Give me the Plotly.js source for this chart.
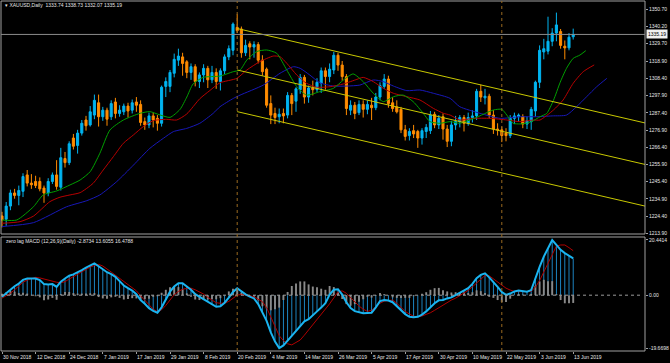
<!DOCTYPE html>
<html><head><meta charset="utf-8">
<script src="https://cdn.plot.ly/plotly-3.0.1.min.js"></script>
<style>html,body{margin:0;padding:0;background:#000;}#chart{width:670px;height:363px;}</style>
</head><body><div id="chart"></div>
<script>
// ---- tick labels (every 8 bars) ----
const dateTickBars = [0,8,16,24,32,40,48,56,64,72,80,88,96,104,112,120,128,136];
const dateTickLabels = ["30 Nov 2018","12 Dec 2018","24 Dec 2018","7 Jan 2019","17 Jan 2019","29 Jan 2019","8 Feb 2019","20 Feb 2019","4 Mar 2019","14 Mar 2019","26 Mar 2019","5 Apr 2019","17 Apr 2019","30 Apr 2019","10 May 2019","22 May 2019","3 Jun 2019","13 Jun 2019"];
const priceTicks = [1350.70,1340.20,1329.70,1318.90,1308.40,1297.90,1287.40,1276.90,1266.40,1255.90,1245.40,1234.90,1224.40,1213.90];
const priceTickLabels = ["1350.70","1340.20","1329.70","1318.90","1308.40","1297.90","1287.40","1276.90","1266.40","1255.90","1245.40","1234.90","1224.40","1213.90"];
const macdTicks = [20.4414, 0, -19.6698];
const macdTickLabels = ["20.4414","0.00","-19.6698"];

// ---- daily candles XAUUSD ----
const openP = [
1224.5,1222.5,1230.5,1238.5,1237,1239.5,1249.5,1244.5,1245.5,1245.5,
1241.5,1238.5,1245.5,1249.5,1242,1259.5,1257,1272,1267.5,1275,
1283,1280,1286,1293.5,1285,1289,1285,1294,1287,1288,
1291.5,1289,1294,1292.5,1282,1280,1285.5,1284,1281,1303.5,
1303.5,1311.5,1319.5,1321.5,1318.5,1312,1315.5,1306.5,1310.5,1314.5,
1307.5,1312,1306.5,1313,1321.5,1325.5,1339.5,1338.5,1324,1329.5,
1327.5,1329,1319.5,1314,1293,1287,1285,1287,1286,1298,
1294.5,1301.5,1309,1297,1302.5,1301.5,1305.5,1313,1309.5,1313.5,
1322.5,1316.5,1309.5,1289,1292,1287.5,1292.5,1289.5,1292,1290.5,
1297,1303.5,1308,1293.5,1291,1289.5,1277,1273.5,1276.5,1276,
1272,1276,1276.5,1286.5,1280,1285,1277.5,1270,1280,1282,
1284.5,1281,1284.5,1285.5,1300.5,1296.5,1297.5,1286,1277.5,1277,
1275,1273.5,1284,1285,1285,1280.5,1282,1288.5,1306,1324.5,
1325,1331,1336,1337,1328,1327,1333.74];
const highP = [
1227,1233,1240.5,1241,1243,1250.5,1252.5,1250,1249,1248,
1243,1247.5,1251,1258.5,1266,1263.5,1270,1274.5,1277,1283,
1285.5,1291.5,1298.5,1298.5,1291,1290.5,1295,1296.5,1292,1293,
1293.5,1295.5,1297,1295,1284.5,1287.5,1287.5,1286,1304,1309,
1313.5,1323.5,1326.5,1324,1319.5,1317.5,1317,1312,1317,1316,
1316,1314.5,1314.5,1323,1328.5,1342.5,1347.5,1340,1332,1331,
1331,1330.5,1322.5,1315,1298,1290.5,1290,1290,1300,1299.5,
1303,1311,1310.5,1304,1307,1308.5,1315,1315,1317.5,1324.5,
1324,1319,1311,1295,1294,1295,1295,1295,1296.5,1299.5,
1306,1311,1310,1297,1295,1291,1280,1278,1280,1277,
1278,1280.5,1288.5,1288,1286,1287,1280,1282.5,1285.5,1286,
1286,1287.5,1289,1302,1304.5,1302,1299,1289,1281,1279,
1278,1286,1287.5,1287,1286.5,1285,1291,1307,1328.5,1332.5,
1346,1339,1348.5,1338.5,1331.5,1336,1338.73];
const lowP = [
1217.5,1218.5,1228,1235,1231,1236,1242.5,1241,1241.5,1239.5,
1232.5,1236.5,1244,1240.5,1240,1254,1255.5,1265,1262.5,1273.5,
1276.5,1279,1283.5,1279,1282.5,1279.5,1283,1284,1285,1286,
1284.5,1287,1288,1279.5,1277,1278,1278.5,1276.5,1279,1297,
1300,1309,1316,1310,1308.5,1307.5,1303.5,1302.5,1306,1302.5,
1305.5,1302,1301,1311,1319.5,1322.5,1336,1321,1322,1320,
1321,1317.5,1310,1290.5,1280.5,1280.5,1281,1281,1284,1286,
1288,1299,1293,1293.5,1298,1300,1299.5,1301.5,1306,1311,
1313,1307,1286,1286,1283.5,1286,1284.5,1286.5,1283,1289,
1295,1302,1290.5,1288,1287,1275,1270.5,1270.5,1272,1266,
1268,1272,1274.5,1278,1277.5,1271,1266.5,1267,1277,1278.5,
1276,1279.5,1281.5,1283,1294,1292.5,1284,1274.5,1273.5,1269.5,
1270,1272,1280.5,1282,1278,1277.5,1277,1285,1302.5,1320,
1323,1328,1331,1326.5,1320,1325.5,1332.07];
const closeP = [
1222,1230.5,1238.5,1237,1240,1248.5,1244.5,1243.5,1243,1241,
1238.5,1245.5,1249.5,1242.5,1260,1257,1268.5,1267,1275,1281,
1279.5,1288,1295,1285,1289,1283.5,1293,1287,1289,1291.5,
1288.5,1293.5,1292,1281.5,1280,1285.5,1283,1281,1303,1306.5,
1312,1320,1322,1317.5,1312,1315.5,1306.5,1310.5,1314.5,1307.5,
1312,1306.5,1313,1321.5,1326.5,1341.5,1337.5,1324,1328.5,1327.5,
1329,1319.5,1312.5,1292,1286,1284.5,1286.5,1285.5,1298,1293,
1302,1309,1297,1302.5,1301.5,1306,1313,1309.5,1314,1322.5,
1316.5,1309.5,1290,1292,1287,1292.5,1289.5,1292.5,1290.5,1297,
1304,1308,1293,1290,1288,1277,1273,1276,1274.5,1272,
1276.5,1278.5,1286,1280,1284,1277.5,1270,1280,1282,1284.5,
1281,1284.5,1285.5,1300.5,1297,1297.5,1286,1277.5,1277,1273.5,
1273.5,1284,1285.5,1286,1280.5,1282.5,1289.5,1306,1325.5,1326.5,
1331,1336,1341,1328.5,1327,1333.5,1335.19];
const barIndex = closeP.map((_, i) => i);

// ---- Alligator lines (bar position / price) ----
const lipsX = [0,3.5,7.5,9.8,13,16.2,18.6,21,23.3,25.7,28.9,32.9,35.2,37.6,40,42.4,44,45.5,47.9,51.9,55.1,56.7,58.3,60.6,63,65.4,67.8,70.2,72.5,75.7,78.9,81.3,83.6,86,88.4,90.8,93.2,95.5,97.9,100.3,101.9,104.3,106.7,109,112.6,117,119,120.2,121.7,123.3,124.9,126.1,128.1,129.7,131.3,132.9,134.4,136,137.6,139];
const lipsY = [1222.0,1222.0,1230.1,1237.3,1239.7,1243.4,1246.4,1251.5,1262.7,1276.9,1283.0,1287.1,1288.1,1286.1,1284.6,1289.5,1297.0,1305.0,1309.0,1309.8,1312.5,1313.5,1319.6,1324.7,1325.7,1323.7,1313.5,1303.3,1298.2,1300.3,1302.3,1307.4,1311.1,1306.4,1299.3,1294.2,1297.2,1298.2,1294.2,1287.1,1282.0,1281.0,1282.0,1281.0,1284.2,1289.1,1289.5,1286.0,1281.0,1280.6,1281.0,1282.0,1285.0,1287.0,1295.0,1306.0,1314.5,1320.6,1322.6,1325.3];
const teethX = [0,4.3,7.5,11.4,13.8,16.2,18.6,21.7,24.1,26.5,28.9,31.3,33.6,36,39.2,41.6,44,47.1,49.5,51.9,55.9,58.3,61.4,64.6,66.2,67.8,70.2,72.5,74.9,78.1,81.3,84.5,86,88.4,90.8,93.2,96.4,99.5,102.7,105.1,106.7,109,112.2,116.2,120.2,123.3,126.5,128.1,131.3,133.6,136,138.4,141];
const teethY = [1220.0,1221.0,1224.4,1233.2,1235.9,1237.3,1238.7,1244.4,1252.5,1260.6,1268.8,1273.9,1278.9,1282.6,1283.4,1283.0,1286.7,1296.0,1301.0,1305.7,1308.4,1313.5,1318.6,1322.0,1321.6,1317.6,1310.4,1305.4,1303.0,1303.3,1305.0,1307.8,1309.0,1306.4,1302.3,1299.3,1297.2,1295.2,1290.1,1287.1,1286.0,1283.0,1284.0,1284.0,1283.0,1282.0,1283.0,1283.0,1289.1,1295.2,1305.4,1312.5,1316.6];
const jawX = [0,7.5,15.4,20.2,23.3,27.3,31.3,35.2,38.4,40.8,44,47.1,50.3,51.9,55.1,56.7,62.2,66.2,69.4,71,73.3,75.7,78.9,82.1,85.2,88.4,90.8,93.2,96.4,99.5,102.7,106.7,109,113.8,118.6,123.3,127.3,131,134.4,136.8,139.2,141.6,144];
const jawY = [1218.0,1220.4,1230.1,1233.8,1237.3,1245.4,1255.5,1265.7,1271.8,1275.9,1277.9,1281.0,1287.1,1291.1,1296.2,1298.2,1304.3,1311.5,1315.5,1314.5,1310.4,1305.7,1303.7,1303.7,1304.3,1307.4,1306.4,1303.7,1300.9,1301.3,1299.3,1296.2,1291.1,1287.1,1284.0,1285.0,1285.0,1285.5,1286.0,1291.1,1297.2,1303.3,1308.4];

// ---- channel (3 parallel lines), start bar and end bar ----
const channelX = [56, 153.1];
const channelUpper = [1338.8, 1281.2];
const channelMiddle = [1313.5, 1255.9];
const channelLower = [1288.1, 1230.5];
const markerBars = [56, 119];
const bidPrice = 1335.19;

// ---- zero lag MACD (12,26,9) ----
const macdMain = [
-0.6,0.8,2.2,3.3,4.3,5.7,6.2,6.3,6.2,5.6,
4.1,4.0,4.1,3.1,5.0,6.2,7.2,7.7,8.4,9.3,
10.2,11.1,11.8,10.7,9.6,8.5,7.8,6.8,5.2,3.6,
2.6,1.7,0.4,-1.8,-3.2,-4.8,-5.8,-6.5,-4.5,-1.8,
1.3,3.2,4.4,4.4,3.2,2.0,0.4,-0.6,-1.4,-2.4,
-3.3,-4.3,-4.1,-2.8,-0.9,1.2,2.6,1.3,0.3,-0.5,
-1.2,-3.3,-6.5,-9.5,-13.8,-17.2,-19.6,-18.6,-16.8,-15.0,
-13.3,-11.5,-9.7,-8.9,-7.6,-6.0,-4.6,-3.0,0.2,2.0,
2.2,0.2,-2.6,-4.8,-5.9,-6.4,-6.7,-6.6,-6.5,-4.5,
-2.2,-1.8,-2.0,-2.6,-4.0,-5.5,-7.0,-8.0,-8.2,-8.0,
-7.2,-6.0,-4.5,-3.0,-1.9,-1.8,-1.2,-0.8,0.0,0.9,
1.8,2.6,4.2,6.3,7.5,8.1,6.6,5.0,3.1,1.2,
0.1,0.6,1.4,1.7,1.5,1.3,1.9,6.5,10.5,14.3,
17.2,20.4,18.6,16.8,15.6,14.6,13.6055];
const macdSignal = [
-1.1,-0.2,0.7,2.0,3.5,4.8,5.6,6.2,6.6,6.4,
6.0,5.6,5.1,4.8,4.6,5.0,6.0,6.9,7.8,8.7,
9.6,10.4,11.0,11.4,10.8,9.8,8.6,7.4,6.2,5.2,
4.0,2.8,1.6,-0.2,-1.8,-3.5,-5.2,-6.1,-5.4,-3.8,
-1.6,0.2,1.4,2.2,2.5,2.6,2.0,1.2,0.4,-0.8,
-1.9,-2.8,-3.0,-2.9,-2.3,-1.2,0.0,0.3,0.1,-0.2,
-0.6,-1.4,-2.4,-4.6,-8.2,-12.0,-15.0,-16.8,-18.0,-18.4,
-17.6,-16.6,-14.8,-12.9,-10.8,-8.9,-7.0,-5.0,-3.2,-1.0,
1.2,1.6,0.7,-0.9,-2.6,-4.0,-5.2,-6.0,-5.6,-4.3,
-3.0,-2.2,-1.9,-1.8,-3.0,-4.5,-6.0,-7.0,-7.8,-8.0,
-7.7,-7.1,-6.5,-5.6,-4.6,-3.6,-2.6,-1.8,-1.1,-0.2,
0.8,1.8,3.1,4.5,6.0,7.3,7.2,6.0,4.9,3.8,
2.6,1.9,1.4,1.3,1.3,1.3,1.4,3.0,5.4,8.6,
12.0,15.2,18.2,18.6,18.6,17.6,16.4788];
const macdHist = [
0.5,1.0,1.5,1.3,0.8,0.9,0.6,0.1,-0.4,-0.8,
-1.9,-1.6,-1.0,-1.7,0.4,1.2,1.2,0.8,0.6,0.6,
0.6,0.7,0.8,-0.7,-1.2,-1.3,-0.8,-0.6,-1.0,-1.6,
-1.4,-1.1,-1.2,-1.6,-1.4,-1.3,-0.6,-0.4,0.9,2.0,
2.9,3.0,3.0,2.2,0.7,-0.6,-1.6,-1.8,-1.8,-1.6,
-1.4,-1.5,-1.1,0.1,1.4,2.4,2.6,1.0,0.2,-0.3,
-0.6,-1.9,-4.1,-4.9,-5.6,-5.2,-4.6,-1.8,1.2,3.4,
4.3,5.1,5.1,4.0,3.2,2.9,2.4,2.0,3.4,3.0,
1.0,-1.4,-3.3,-3.9,-3.3,-2.4,-1.5,-0.6,-0.9,-0.2,
0.8,0.4,-0.1,-0.8,-1.0,-1.0,-1.0,-1.0,-0.4,0.0,
0.5,1.1,2.0,2.6,2.7,1.8,1.4,1.0,1.1,1.1,
1.0,0.8,1.1,1.8,1.5,0.8,-0.6,-1.0,-1.8,-2.6,
-2.5,-1.3,0.0,0.4,0.2,0.0,0.5,3.5,5.1,5.7,
5.2,5.2,0.4,-1.8,-3.0,-3.0,-2.8734];

// ---- geometry ----
const W = 670, H = 363, mL = 1, mR = 25, mT = 1, mB = 12;
const plotH = H - mT - mB;               // 350
const pxPerBar = 4.2;
const xMin = -1 / pxPerBar;
const xMax = xMin + (W - mL - mR) / pxPerBar;
const mainDom = [(351 - 234) / plotH, 1];
const macdDom = [0, (351 - 237) / plotH];
const py = Y => (351 - Y) / plotH;       // pixel y -> paper y

const txt = '#e6e6e6';
const fontFam = 'Liberation Sans, Arial, sans-serif';
const fs = 5;

const traces = [
  {type:'candlestick', x:barIndex, open:openP, high:highP, low:lowP, close:closeP,
   xaxis:'x', yaxis:'y',
   increasing:{line:{color:'#00b4f0', width:1}, fillcolor:'#00b4f0'},
   decreasing:{line:{color:'#ff8c00', width:1}, fillcolor:'#ff8c00'},
   whiskerwidth:0, hoverinfo:'skip', showlegend:false},
  {type:'scatter', mode:'lines', x:jawX, y:jawY, line:{color:'#1818b8', width:1, shape:'spline', smoothing:0.6}, hoverinfo:'skip', showlegend:false},
  {type:'scatter', mode:'lines', x:teethX, y:teethY, line:{color:'#b80000', width:1, shape:'spline', smoothing:0.6}, hoverinfo:'skip', showlegend:false},
  {type:'scatter', mode:'lines', x:lipsX, y:lipsY, line:{color:'#00a000', width:1, shape:'spline', smoothing:0.6}, hoverinfo:'skip', showlegend:false},
  {type:'scatter', mode:'lines', x:channelX, y:channelUpper, line:{color:'#c8c800', width:1}, hoverinfo:'skip', showlegend:false},
  {type:'scatter', mode:'lines', x:channelX, y:channelMiddle, line:{color:'#c8c800', width:1}, hoverinfo:'skip', showlegend:false},
  {type:'scatter', mode:'lines', x:channelX, y:channelLower, line:{color:'#c8c800', width:1}, hoverinfo:'skip', showlegend:false},
  // MACD panel
  {type:'bar', x:barIndex, y:macdMain, yaxis:'y2', width:0.22, marker:{color:'#1f8fd0', line:{width:0}}, hoverinfo:'skip', showlegend:false},
  {type:'bar', x:barIndex, y:macdHist, yaxis:'y2', width:0.45, marker:{color:'#8a8a8a', line:{width:0}}, hoverinfo:'skip', showlegend:false},
  {type:'scatter', mode:'lines', x:barIndex, y:macdSignal, yaxis:'y2', line:{color:'#b00000', width:1}, hoverinfo:'skip', showlegend:false},
  {type:'scatter', mode:'lines', x:barIndex, y:macdMain, yaxis:'y2', line:{color:'#1ab4f0', width:2}, hoverinfo:'skip', showlegend:false}
];

const shapes = [
  {type:'rect', xref:'paper', yref:'paper', x0:0, x1:1, y0:mainDom[0], y1:1, line:{color:'#a0a0a0', width:1}},
  {type:'rect', xref:'paper', yref:'paper', x0:0, x1:1, y0:0, y1:macdDom[1], line:{color:'#a0a0a0', width:1}},
  {type:'line', xref:'paper', yref:'y', x0:0, x1:1, y0:bidPrice, y1:bidPrice, line:{color:'#8c8c8c', width:1}},
  {type:'line', xref:'paper', yref:'y2', x0:0, x1:0.995, y0:0, y1:0, line:{color:'#9a9a9a', width:1, dash:'dot'}}
];
markerBars.forEach(b => shapes.push({type:'line', xref:'x', yref:'paper', x0:b, x1:b, y0:0, y1:1, line:{color:'#9a6a20', width:1, dash:'dot'}}));

const annotations = [
  {xref:'paper', yref:'paper', x:(3-mL)/644, y:py(5), xanchor:'left', yanchor:'middle', showarrow:false,
   text:'▾ XAUUSD,Daily  1333.74 1338.73 1332.07 1335.19', font:{family:fontFam, size:fs, color:txt}},
  {xref:'paper', yref:'paper', x:(4-mL)/644, y:py(240.5), xanchor:'left', yanchor:'middle', showarrow:false,
   text:'zero lag MACD (12,26,9)(Daily) -2.8734 13.6055 16.4788', font:{family:fontFam, size:fs, color:txt}},
  {xref:'paper', yref:'y', x:1, y:bidPrice, xanchor:'left', yanchor:'middle', xshift:1, showarrow:false,
   text:'1335.19', bgcolor:'#f0f0f0', borderpad:1, font:{family:fontFam, size:fs, color:'#000'}}
];
dateTickBars.forEach((b, i) => annotations.push({
  xref:'x', yref:'paper', x:b, y:py(357), xanchor:'left', yanchor:'middle', xshift:-1, showarrow:false,
  text:dateTickLabels[i], font:{family:fontFam, size:fs, color:txt}}));

const layout = {
  width:W, height:H, margin:{l:mL, r:mR, t:mT, b:mB, pad:0},
  paper_bgcolor:'#000', plot_bgcolor:'#000', showlegend:false, hovermode:false,
  barmode:'overlay', dragmode:false,
  xaxis:{range:[xMin, xMax], anchor:'y2', showgrid:false, zeroline:false, showline:false,
         rangeslider:{visible:false}, tickvals:dateTickBars, ticktext:dateTickBars.map(()=> ''),
         ticks:'outside', ticklen:2, tickcolor:'#a0a0a0', showticklabels:false, fixedrange:true},
  yaxis:{domain:mainDom, range:[1213.47, 1355.58], side:'right', showgrid:false, zeroline:false,
         tickvals:priceTicks, ticktext:priceTickLabels, ticks:'outside', ticklen:2, tickcolor:'#a0a0a0',
         tickfont:{family:fontFam, size:fs, color:txt}, showline:false, fixedrange:true},
  yaxis2:{domain:macdDom, range:[-20.67, 21.55], side:'right', anchor:'x', showgrid:false, zeroline:false,
          tickvals:macdTicks, ticktext:macdTickLabels, ticks:'outside', ticklen:2, tickcolor:'#a0a0a0',
          tickfont:{family:fontFam, size:fs, color:txt}, showline:false, fixedrange:true},
  shapes:shapes, annotations:annotations
};

Plotly.newPlot('chart', traces, layout, {staticPlot:true, displayModeBar:false});
</script></body></html>
